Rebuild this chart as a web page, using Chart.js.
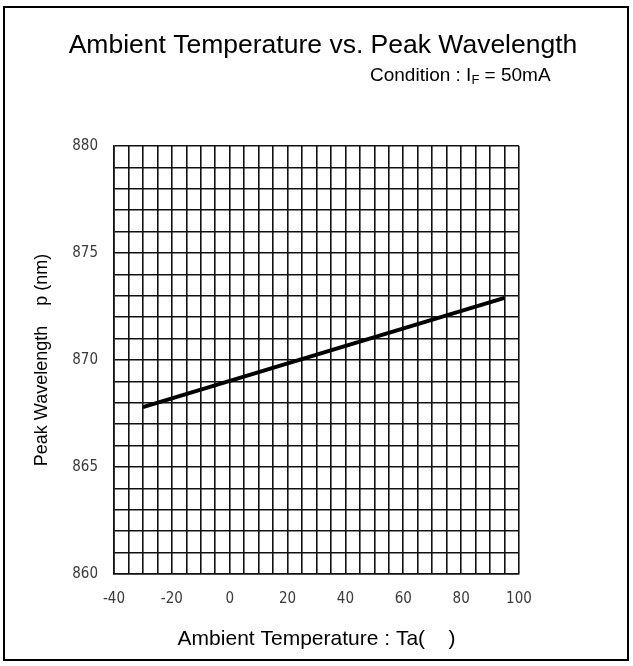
<!DOCTYPE html>
<html>
<head>
<meta charset="utf-8">
<script src="https://cdn.jsdelivr.net/npm/chart.js@4.4.1/dist/chart.umd.min.js"></script>
<style>
    html, body { margin: 0; padding: 0; background: #fff; }
    #wrap { width: 633px; height: 666px; position: relative; }
</style>
</head>
<body>
<div id="wrap"><canvas id="peakChart" width="633" height="666"></canvas></div>
<script>
// values
const temperatures = [-30, 95];
const peakWavelengths = [867.8, 872.9];
const xTickLabels = [-40, -20, 0, 20, 40, 60, 80, 100];
const yTickLabels = [860, 865, 870, 875, 880];

const tickFont = { family: "'Liberation Sans Narrow', 'DejaVu Sans Condensed', 'Liberation Sans', sans-serif", size: 15 };
const labelFont = "'Liberation Sans', Arial, sans-serif";

// frame round the whole picture plus the heading lines
const framePlugin = {
    id: 'frame',
    beforeDraw(chart) {
        const ctx = chart.ctx;
        ctx.save();
        ctx.fillStyle = '#fff';
        ctx.fillRect(0, 0, chart.width, chart.height);
        ctx.strokeStyle = '#000';
        ctx.lineWidth = 2;
        ctx.strokeRect(4, 7, 624, 653);
        ctx.restore();
    },
    afterDraw(chart) {
        const ctx = chart.ctx;
        ctx.save();
        ctx.fillStyle = '#000';
        ctx.textBaseline = 'middle';
        ctx.textAlign = 'center';
        ctx.font = "26.5px " + labelFont;
        ctx.fillText('Ambient Temperature vs. Peak Wavelength', 323, 46);

        // Condition : I_F = 50mA
        ctx.textAlign = 'left';
        let x = 370;
        const y = 76;
        const parts = [['Condition : I', 19, 0], ['F', 13, 4], [' = 50mA', 19, 0]];
        parts.forEach(([txt, size, dy]) => {
            ctx.font = size + "px " + labelFont;
            ctx.fillText(txt, x, y + dy);
            x += ctx.measureText(txt).width;
        });
        ctx.restore();
    }
};

const ctx = document.getElementById('peakChart').getContext('2d');
new Chart(ctx, {
    type: 'scatter',
    data: {
        datasets: [{
            data: temperatures.map((t, i) => ({ x: t, y: peakWavelengths[i] })),
            showLine: true,
            borderColor: '#000',
            borderWidth: 4,
            pointRadius: 0,
            fill: false
        }]
    },
    options: {
        responsive: false,
        animation: false,
        layout: {
            padding: { left: 31, right: 114, top: 146, bottom: 14 }
        },
        plugins: {
            legend: { display: false },
            tooltip: { enabled: false }
        },
        scales: {
            x: {
                type: 'linear',
                min: -40,
                max: 100,
                afterBuildTicks: (axis) => {
                    axis.ticks = [];
                    for (let v = -40; v <= 100; v += 5) axis.ticks.push({ value: v });
                },
                afterFit: (axis) => { axis.height = 78; },
                ticks: {
                    autoSkip: false,
                    maxRotation: 0,
                    padding: 16,
                    color: '#3a3a3a',
                    font: tickFont,
                    callback: (value) => xTickLabels.includes(value) ? String(value) : ''
                },
                grid: { color: '#111', lineWidth: 1.6, drawTicks: false },
                border: { color: '#111', width: 1.6 },
                title: {
                    display: true,
                    text: 'Ambient Temperature : Ta(    )',
                    color: '#000',
                    padding: 0,
                    font: { family: labelFont, size: 21 }
                }
            },
            y: {
                type: 'linear',
                min: 860,
                max: 880,
                afterBuildTicks: (axis) => {
                    axis.ticks = [];
                    for (let v = 860; v <= 880; v += 1) axis.ticks.push({ value: v });
                },
                afterFit: (axis) => { axis.width = 83; },
                ticks: {
                    autoSkip: false,
                    padding: 16,
                    color: '#3a3a3a',
                    font: tickFont,
                    callback: (value) => yTickLabels.includes(value) ? String(value) : ''
                },
                grid: { color: '#111', lineWidth: 1.6, drawTicks: false },
                border: { color: '#111', width: 1.6 },
                title: {
                    display: true,
                    text: 'Peak Wavelength    p (nm)',
                    color: '#000',
                    padding: 0,
                    font: { family: labelFont, size: 18 }
                }
            }
        }
    },
    plugins: [framePlugin]
});
</script>
</body>
</html>
